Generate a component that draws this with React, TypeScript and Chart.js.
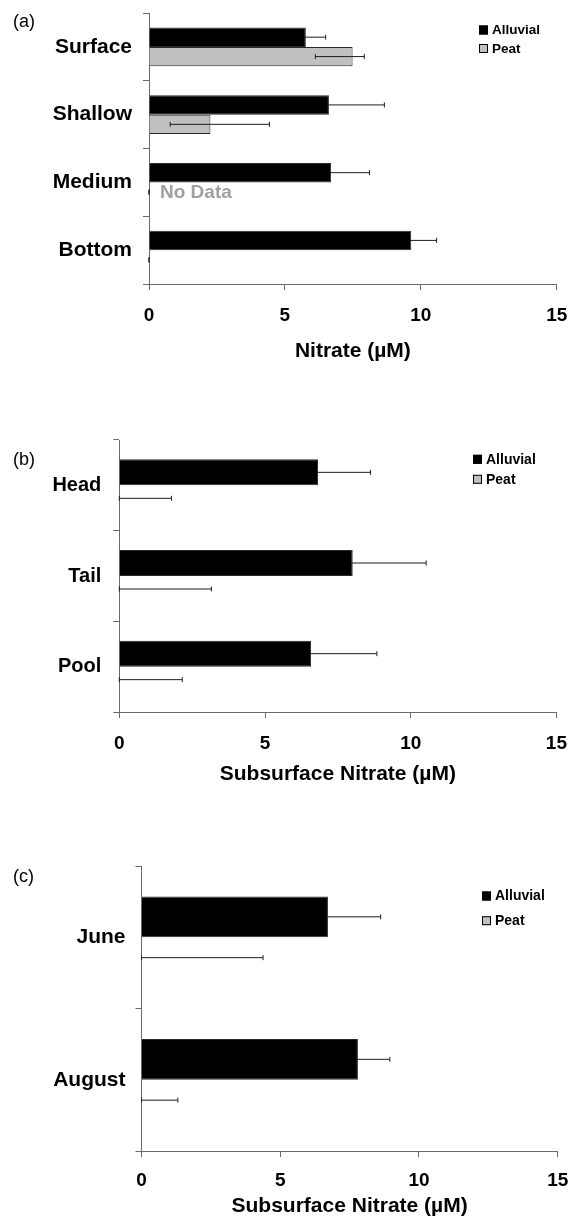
import React, { useEffect, useRef } from 'react';
import { Chart, registerables } from 'chart.js';

Chart.register(...registerables);

const FONT = "'Liberation Sans', Arial, Helvetica, sans-serif";
Chart.defaults.font.family = FONT;
Chart.defaults.color = '#000';

// ---------- data ----------
const seriesNames = ['Alluvial', 'Peat'];
const seriesColors = ['#000000', '#c0c0c0'];
const xTickValues = [0, 5, 10, 15];

// Panel (a) – depth
const depthCategories = ['Surface', 'Shallow', 'Medium', 'Bottom'];
const depthAlluvial = [5.77, 6.62, 6.70, 9.65];
const depthAlluvialErr = [0.73, 2.04, 1.41, 0.93];
const depthPeat = [7.49, 2.26, 0, 0];
const depthPeatErrLow = [1.37, 1.48, 0, 0];
const depthPeatErrHigh = [0.43, 2.17, 0, 0];
const depthNotes = ['', '', 'No Data', ''];

// Panel (b) – habitat
const habitatCategories = ['Head', 'Tail', 'Pool'];
const habitatAlluvial = [6.82, 8.01, 6.58];
const habitatAlluvialErr = [1.80, 2.52, 2.26];
const habitatPeat = [0, 0, 0];
const habitatPeatErrLow = [0, 0, 0];
const habitatPeatErrHigh = [1.79, 3.16, 2.16];

// Panel (c) – month
const monthCategories = ['June', 'August'];
const monthAlluvial = [6.72, 7.80];
const monthAlluvialErr = [1.90, 1.15];
const monthPeat = [0, 0];
const monthPeatErrLow = [0, 0];
const monthPeatErrHigh = [4.38, 1.31];

const panelLetters = ['(a)', '(b)', '(c)'];
const xTitles = ['Nitrate (\u00b5M)', 'Subsurface Nitrate (\u00b5M)', 'Subsurface Nitrate (\u00b5M)'];

// ---------- layout (positions / styles) ----------
const AXIS = '#6a6a6a';

type Layout = {
  top: number; height: number; padTop: number; axisLeft: number; padRight: number;
  xAxisHeight: number; catFont: number; catPad: number; tickPad: number;
  legendX: number; legendY: number; legendGap: number; legendFont: number; letterY: number;
};

const layouts: Layout[] = [
  { top: 0, height: 362, padTop: 13, axisLeft: 149, padRight: 14.3, xAxisHeight: 78, catFont: 21, catPad: 11, tickPad: 16,
    legendX: 479, legendY: 30, legendGap: 18.5, legendFont: 13.5, letterY: 21.7 },
  { top: 380, height: 405, padTop: 60, axisLeft: 119.3, padRight: 14.6, xAxisHeight: 73, catFont: 20, catPad: 12, tickPad: 16,
    legendX: 473, legendY: 79.3, legendGap: 20, legendFont: 14, letterY: 80 },
  { top: 800, height: 417, padTop: 66, axisLeft: 141.5, padRight: 13.3, xAxisHeight: 66, catFont: 21, catPad: 10, tickPad: 14,
    legendX: 482, legendY: 96, legendGap: 24.7, legendFont: 14, letterY: 76.7 },
];

type PanelData = {
  categories: string[]; alluvial: number[]; alluvialErr: number[];
  peat: number[]; peatLow: number[]; peatHigh: number[]; notes?: string[];
};

const panels: PanelData[] = [
  { categories: depthCategories, alluvial: depthAlluvial, alluvialErr: depthAlluvialErr,
    peat: depthPeat, peatLow: depthPeatErrLow, peatHigh: depthPeatErrHigh, notes: depthNotes },
  { categories: habitatCategories, alluvial: habitatAlluvial, alluvialErr: habitatAlluvialErr,
    peat: habitatPeat, peatLow: habitatPeatErrLow, peatHigh: habitatPeatErrHigh },
  { categories: monthCategories, alluvial: monthAlluvial, alluvialErr: monthAlluvialErr,
    peat: monthPeat, peatLow: monthPeatErrLow, peatHigh: monthPeatErrHigh },
];

function drawErrors(chart: any, di: number, low: number[], high: number[]) {
  const { ctx } = chart;
  const xs = chart.scales.x;
  const cap = 2.5;
  const ds = chart.data.datasets[di];
  const meta = chart.getDatasetMeta(di);
  ctx.save();
  ctx.strokeStyle = '#1e1e1e';
  ctx.lineWidth = 1;
  meta.data.forEach((el: any, i: number) => {
    const v = ds.data[i];
    if (v == null) return;
    const y = el.y;
    const x1 = xs.getPixelForValue(v - low[i]);
    const x2 = xs.getPixelForValue(v + high[i]);
    ctx.beginPath();
    ctx.moveTo(x1, y); ctx.lineTo(x2, y);
    ctx.moveTo(x1, y - cap); ctx.lineTo(x1, y + cap);
    ctx.moveTo(x2, y - cap); ctx.lineTo(x2, y + cap);
    ctx.stroke();
  });
  ctx.restore();
}

// Alluvial error bars are drawn beneath the (black) bars, peat error bars on top.
function makeErrorPlugin(P: PanelData) {
  return {
    id: 'errorBars',
    beforeDatasetsDraw(chart: any) {
      drawErrors(chart, 0, P.alluvialErr, P.alluvialErr);
    },
    afterDatasetsDraw(chart: any) {
      drawErrors(chart, 1, P.peatLow, P.peatHigh);
    },
  };
}

function makeDecorPlugin(idx: number, L: Layout, notes?: string[]) {
  return {
    id: 'decor',
    afterDraw(chart: any) {
      const { ctx } = chart;
      ctx.save();
      ctx.font = `18px ${FONT}`;
      ctx.fillStyle = '#000';
      ctx.textAlign = 'left';
      ctx.textBaseline = 'middle';
      ctx.fillText(panelLetters[idx], 13, L.letterY);
      if (notes) {
        const xs = chart.scales.x;
        const meta = chart.getDatasetMeta(1);
        notes.forEach((n, i) => {
          if (!n) return;
          const el = meta.data[i];
          ctx.font = `bold 19px ${FONT}`;
          ctx.fillStyle = '#a0a0a0';
          ctx.fillText(n, xs.getPixelForValue(0) + 11, el.y + 0.5);
        });
      }
      chart.data.datasets.forEach((ds: any, di: number) => {
        const cy = L.legendY + di * L.legendGap;
        const bx = L.legendX;
        ctx.fillStyle = ds.backgroundColor;
        ctx.fillRect(bx, cy - 4.5, 9, 9);
        ctx.strokeStyle = '#000';
        ctx.lineWidth = 1;
        ctx.strokeRect(bx + 0.5, cy - 4, 8, 8);
        ctx.fillStyle = '#000';
        ctx.font = `bold ${L.legendFont}px ${FONT}`;
        ctx.textAlign = 'left';
        ctx.textBaseline = 'middle';
        ctx.fillText(ds.label, bx + 13, cy + 0.5);
      });
      ctx.restore();
    },
  };
}

function makeConfig(idx: number): any {
  const P = panels[idx];
  const L = layouts[idx];
  const barCommon = { categoryPercentage: 0.573, barPercentage: 1, borderColor: '#2a2a2a', borderWidth: 1 };
  return {
    type: 'bar',
    data: {
      labels: P.categories,
      datasets: [
        { label: seriesNames[0], data: P.alluvial, backgroundColor: seriesColors[0], ...barCommon },
        { label: seriesNames[1], data: P.peat, backgroundColor: seriesColors[1], ...barCommon },
      ],
    },
    options: {
      indexAxis: 'y',
      responsive: false,
      maintainAspectRatio: false,
      animation: false,
      devicePixelRatio: 1,
      layout: { padding: { top: L.padTop, right: L.padRight, left: 0, bottom: 0 } },
      plugins: { legend: { display: false }, tooltip: { enabled: false } },
      scales: {
        x: {
          type: 'linear',
          min: 0,
          max: 15,
          afterBuildTicks: (s: any) => { s.ticks = xTickValues.map((v) => ({ value: v })); },
          ticks: { font: { size: 19, weight: 'bold', lineHeight: 1 }, color: '#000', padding: L.tickPad, maxRotation: 0, autoSkip: false },
          grid: { drawOnChartArea: false, drawTicks: true, tickLength: 6, color: AXIS, lineWidth: 1 },
          border: { display: true, color: AXIS, width: 1 },
          title: { display: true, text: xTitles[idx], font: { size: 21, weight: 'bold', lineHeight: 1 }, color: '#000', padding: 0 },
          afterFit: (s: any) => { s.height = L.xAxisHeight; s.paddingLeft = 0; s.paddingRight = 0; },
        },
        y: {
          type: 'category',
          ticks: { font: { size: L.catFont, weight: 'bold' }, color: '#000', padding: L.catPad, autoSkip: false },
          grid: { drawOnChartArea: false, drawTicks: true, tickLength: 6, color: AXIS, offset: true, lineWidth: 1 },
          border: { display: true, color: AXIS, width: 1 },
          afterFit: (s: any) => { s.width = L.axisLeft; s.paddingTop = 0; s.paddingBottom = 0; },
        },
      },
    },
    plugins: [makeErrorPlugin(P), makeDecorPlugin(idx, L, P.notes)],
  };
}

function Panel({ idx }: { idx: number }) {
  const ref = useRef<HTMLCanvasElement>(null);
  const L = layouts[idx];
  useEffect(() => {
    if (!ref.current) return;
    const chart = new Chart(ref.current, makeConfig(idx));
    return () => chart.destroy();
  }, [idx]);
  return (
    <canvas
      ref={ref}
      width={571}
      height={L.height}
      style={{ position: 'absolute', left: 0, top: L.top, width: 571, height: L.height, display: 'block' }}
    />
  );
}

export default function App() {
  return (
    <div style={{ position: 'absolute', left: 0, top: 0, width: 571, height: 1217, overflow: 'hidden', background: '#fff' }}>
      <Panel idx={0} />
      <Panel idx={1} />
      <Panel idx={2} />
    </div>
  );
}
